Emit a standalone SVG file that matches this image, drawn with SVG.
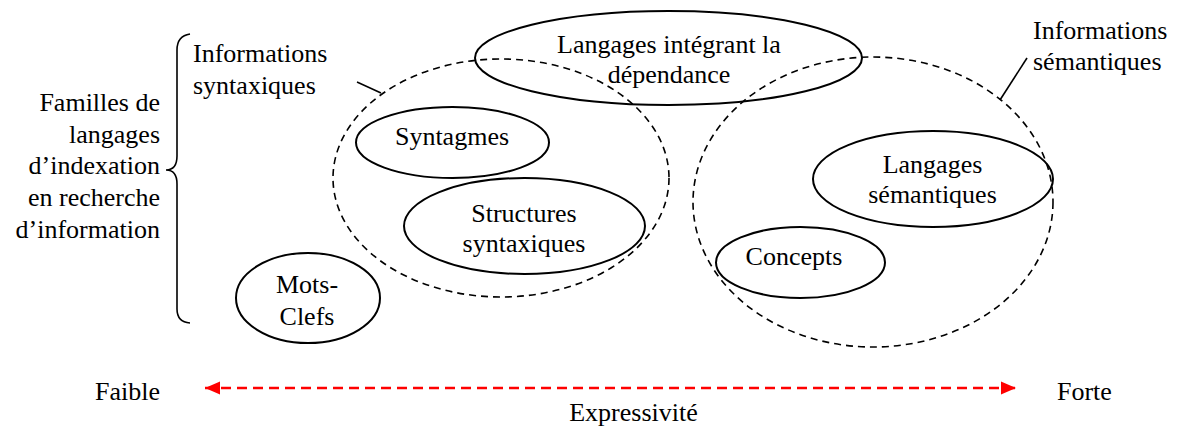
<svg xmlns="http://www.w3.org/2000/svg" width="1179" height="428" viewBox="0 0 1179 428">
<style>
text{font-family:"Liberation Serif","Times New Roman",serif;font-size:26px;fill:#000}
.c{text-anchor:middle}
.r{text-anchor:end}
.node{fill:none;stroke:#000;stroke-width:2}
.group{fill:none;stroke:#000;stroke-width:1.6;stroke-dasharray:7 5}
.lead{fill:none;stroke:#000;stroke-width:1.6}
.axis{fill:none;stroke:#ff0000;stroke-width:2.5;stroke-dasharray:10 6}
</style>
<defs>
<marker id="ah" markerUnits="userSpaceOnUse" markerWidth="16" markerHeight="14" refX="15" refY="7" orient="auto-start-reverse">
<path d="M0,0.5 L15,7 L0,13.5 z" fill="#ff0000"/>
</marker>
</defs>
<rect width="1179" height="428" fill="#fff"/>

<g id="brace-label">
<path class="lead" d="M190,34 Q177,36 177,50 L177,156 Q177,170 166,170 Q177,170 177,184 L177,309 Q177,322 190,323"/>
<text class="r" x="160" y="111">Familles de</text>
<text class="r" x="160" y="142.5">langages</text>
<text class="r" x="160" y="174">d’indexation</text>
<text class="r" x="160" y="206">en recherche</text>
<text class="r" x="160" y="238">d’information</text>
</g>

<g id="syntax-group">
<ellipse class="group" cx="501" cy="178" rx="168" ry="119"/>
<text x="193" y="62">Informations</text>
<text x="193" y="93.5">syntaxiques</text>
</g>

<g id="semantic-group">
<ellipse class="group" cx="873" cy="202" rx="180" ry="145"/>
<text x="1033" y="38.5">Informations</text>
<text x="1033" y="70">sémantiques</text>
</g>

<g id="connectors">
<line class="lead" x1="357" y1="82" x2="381" y2="93"/>
<line class="lead" x1="1027" y1="58" x2="1000" y2="100"/>
<line class="axis" x1="205" y1="388" x2="1016" y2="388" marker-start="url(#ah)" marker-end="url(#ah)"/>
</g>

<g id="dependance">
<ellipse class="node" cx="668.5" cy="58" rx="193.5" ry="47"/>
<text class="c" x="669" y="52.7">Langages intégrant la</text>
<text class="c" x="669" y="83.3">dépendance</text>
</g>

<g id="syntagmes">
<ellipse class="node" cx="452.5" cy="142.5" rx="96.5" ry="35.5"/>
<text class="c" x="452" y="145">Syntagmes</text>
</g>

<g id="structures">
<ellipse class="node" cx="524.5" cy="226" rx="120.5" ry="48"/>
<text class="c" x="524" y="221.5">Structures</text>
<text class="c" x="524" y="251.5">syntaxiques</text>
</g>

<g id="mots-clefs">
<ellipse class="node" cx="308" cy="298" rx="72" ry="45"/>
<text class="c" x="307" y="293">Mots-</text>
<text class="c" x="307" y="325">Clefs</text>
</g>

<g id="langages-semantiques">
<ellipse class="node" cx="933" cy="179" rx="120" ry="48"/>
<text class="c" x="932.5" y="173">Langages</text>
<text class="c" x="932.5" y="203">sémantiques</text>
</g>

<g id="concepts">
<ellipse class="node" cx="800.5" cy="262.5" rx="84.5" ry="35.5"/>
<text class="c" x="794" y="265">Concepts</text>
</g>

<g id="axis-labels">
<text x="95" y="400">Faible</text>
<text x="1057" y="400">Forte</text>
<text class="c" x="633.5" y="421">Expressivité</text>
</g>
</svg>
